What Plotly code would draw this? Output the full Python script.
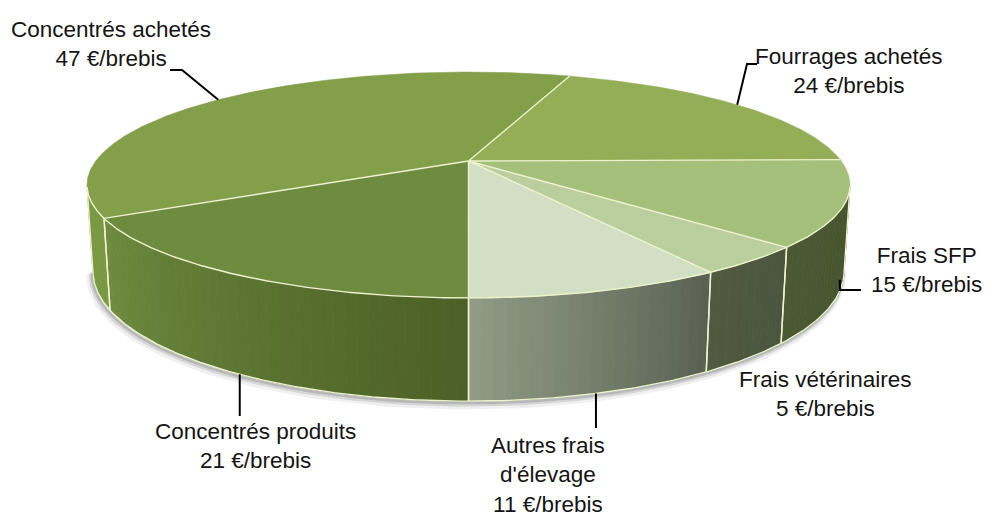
import math
import numpy as np
import plotly.graph_objects as go

# ---------------- data ----------------
categories = ["Concentrés achetés", "Fourrages achetés", "Frais SFP",
              "Frais vétérinaires", "Autres frais d'élevage", "Concentrés produits"]
values = [47, 24, 15, 5, 11, 21]
label_names = ["Concentrés achetés", "Fourrages achetés", "Frais SFP",
               "Frais vétérinaires", "Autres frais<br>d'élevage", "Concentrés produits"]
unit = "€/brebis"

# ---------------- style ----------------
top_colors = ["#839f4a", "#93ae57", "#a5c07a", "#bbce9e", "#d3dfc4", "#6f8b40"]
wall_colors = [("#7a9843", "#7a9843"), ("#7c9a46", "#7c9a46"), ("#4c5934", "#45522c"),
               ("#515a41", "#4c553d"), ("#909c86", "#596050"), ("#6e8c3e", "#4c5f27")]
edge_col = "rgb(236,243,206)"

# page offset of the plot (default body margin of the html page)
PAGE_OFF = 8
W, H = 997, 518

# view geometry (pixel space)
CX, CY = 468.5, 161.0
A = 372.8
S = 0.2894
C = math.sqrt(1 - S * S)
K = 0.2124
D = C / K
F = A * D
HR = 0.238
START = -61.46
TV = math.degrees(math.acos(1.0 / (D * C)))


def proj(theta, h):
    t = np.radians(theta)
    x = np.sin(t)
    z = np.cos(t)
    y = -h * HR
    den = D - (y * S + z * C)
    return CX + F * x / den, CY + F * (z * S - y * C) / den


def arc(t0, t1, h, step=0.5):
    n = max(2, int(abs(t1 - t0) / step) + 1)
    ts = np.linspace(t0, t1, n)
    return proj(ts, h)


def mix(c1, c2, f):
    a = [int(c1[i:i + 2], 16) for i in (1, 3, 5)]
    b = [int(c2[i:i + 2], 16) for i in (1, 3, 5)]
    m = [round(a[i] + (b[i] - a[i]) * f) for i in range(3)]
    return "rgb(%d,%d,%d)" % tuple(m)


total = float(sum(values))
bounds = []
cum = 0.0
for v in values:
    a = START - cum / total * 360.0
    cum += v
    b = START - cum / total * 360.0
    bounds.append((a, b))

fig = go.Figure()

# shadow under the bottom rim
for off, w, al in [(4, 9, 0.08), (3, 5, 0.14), (2, 2.5, 0.2)]:
    sx, sy = arc(-TV - 2, TV + 2, 1.0)
    fig.add_trace(go.Scatter(x=sx - off * 0.6, y=sy + off, mode="lines",
                             line=dict(color="rgba(60,60,60,%.2f)" % al, width=w),
                             hoverinfo="skip"))

# walls
wall_ranges = []
for i, (a, b) in enumerate(bounds):
    for sh in (-360, 0, 360):
        lo = max(b + sh, -TV)
        hi = min(a + sh, TV)
        if hi > lo:
            wall_ranges.append((i, lo, hi))
            n = max(1, int((hi - lo) / 1.5))
            edges = np.linspace(lo, hi, n + 1)
            for j in range(n):
                t0, t1 = edges[j], edges[j + 1]
                tx, ty = arc(t0, t1, 0.0, 0.5)
                bx, by = arc(t1, t0, 1.0, 0.5)
                col = mix(wall_colors[i][0], wall_colors[i][1], ((t0 + t1) / 2 - lo) / (hi - lo))
                fig.add_trace(go.Scatter(x=np.r_[tx, bx, tx[0]], y=np.r_[ty, by, ty[0]],
                                         mode="lines", fill="toself", fillcolor=col,
                                         line=dict(color=col, width=0.8), hoverinfo="skip"))

# top faces
for i, (a, b) in enumerate(bounds):
    ax_, ay_ = arc(a, b, 0.0, 0.4)
    fig.add_trace(go.Scatter(x=np.r_[CX, ax_, CX], y=np.r_[CY, ay_, CY], mode="lines",
                             fill="toself", fillcolor=top_colors[i],
                             line=dict(color=top_colors[i], width=0.5), hoverinfo="skip"))

# edges
ex, ey = [], []
for i, (a, b) in enumerate(bounds):
    px, py = proj(a, 0.0)
    ex += [CX, float(px), None]
    ey += [CY, float(py), None]
for i, lo, hi in wall_ranges:
    for t in (lo, hi):
        px0, py0 = proj(t, 0.0)
        px1, py1 = proj(t, 1.0)
        ex += [float(px0), float(px1), None]
        ey += [float(py0), float(py1), None]
rx, ry = arc(-TV, TV, 0.0)
ex += list(rx) + [None]
ey += list(ry) + [None]
bx, by = arc(-TV, TV, 1.0)
ex += list(bx) + [None]
ey += list(by) + [None]
fig.add_trace(go.Scatter(x=ex, y=ey, mode="lines", line=dict(color=edge_col, width=1.4),
                         hoverinfo="skip"))

# labels and leader lines
mids = [(a + b) / 2 for a, b in bounds]
label_pos = [(111, 44), (849, 71), (926, 270), (825, 394), (548, 475), (255, 446)]
anchor_h = [0.0, 0.0, 0.85, None, 1.0, 1.0]
# leader points after the anchor; "A" means: same x as the anchor
leaders = [[(182, 70), (170, 70)], [(747, 64), (757, 64)], [(840, 290), (861, 290)],
           None, [("A", 428)], [("A", 416)]]

for i in range(len(values)):
    tx, ty = label_pos[i]
    fig.add_annotation(x=tx, y=ty, xref="x", yref="y", showarrow=False,
                       text="%s<br>%d %s" % (label_names[i], values[i], unit),
                       font=dict(family="Liberation Sans, Arial", size=22.5, color="#141414"),
                       align="center", xanchor="center", yanchor="middle")
    if anchor_h[i] is not None:
        px, py = proj(mids[i], anchor_h[i])
        px, py = float(px), float(py)
        lx, ly = [px], [py]
        for (qx, qy) in leaders[i]:
            lx.append(px if qx == "A" else qx)
            ly.append(qy)
        fig.add_trace(go.Scatter(x=lx, y=ly, mode="lines",
                                 line=dict(color="#000000", width=2), hoverinfo="skip"))

fig.update_layout(width=W - PAGE_OFF, height=H - PAGE_OFF, margin=dict(l=0, r=0, t=0, b=0),
                  paper_bgcolor="white", plot_bgcolor="white", showlegend=False,
                  hovermode=False)
fig.update_xaxes(range=[PAGE_OFF, W], visible=False, fixedrange=True)
fig.update_yaxes(range=[H, PAGE_OFF], visible=False, fixedrange=True)
fig.write_html("out.html")
